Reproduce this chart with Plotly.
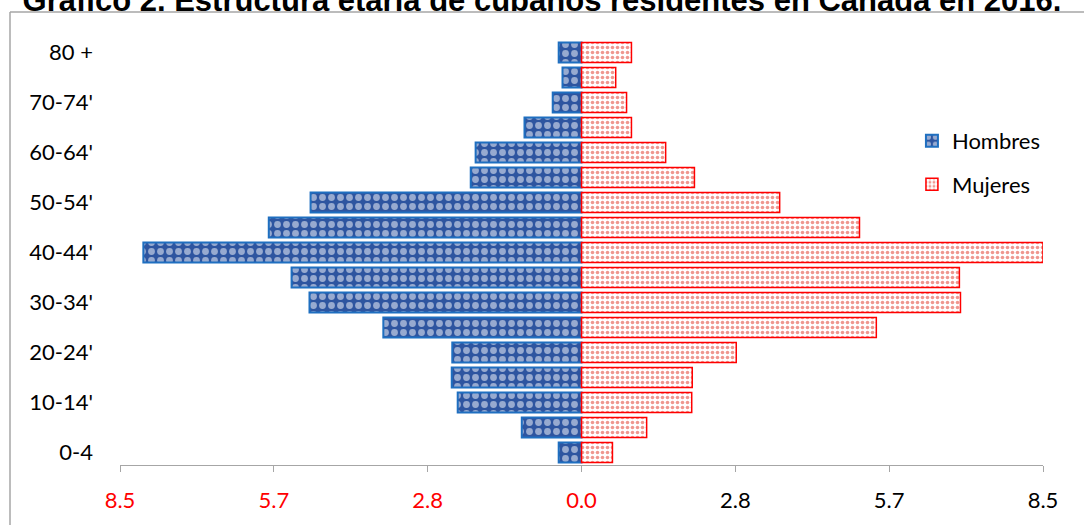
import plotly.graph_objects as go

# Age groups, youngest first
age_groups = ["0-4", "5-9'", "10-14'", "15-19'", "20-24'", "25-29'", "30-34'", "35-39'",
              "40-44'", "45-49'", "50-54'", "55-59'", "60-64'", "65-69'", "70-74'", "75-79'", "80 +"]
shown_labels = ["0-4", "10-14'", "20-24'", "30-34'", "40-44'", "50-54'", "60-64'", "70-74'", "80 +"]

# Percentage of population by sex
hombres = [0.42, 1.10, 2.28, 2.39, 2.38, 3.65, 5.01, 5.34, 8.07, 5.76, 4.99, 2.04, 1.95, 1.05, 0.53, 0.35, 0.42]
mujeres = [0.57, 1.20, 2.03, 2.04, 2.85, 5.43, 6.98, 6.96, 8.50, 5.12, 3.65, 2.08, 1.55, 0.92, 0.83, 0.63, 0.92]

# Symmetric axis ticks; the male side is shown as positive red numbers
tick_values = [-8.5, -8.5 * 2 / 3, -8.5 / 3, 0, 8.5 / 3, 8.5 * 2 / 3, 8.5]
tick_text = [f"<span style='color:#FF0000'>{abs(v):.1f}</span>" if v <= 0 else f"{v:.1f}"
             for v in tick_values]

W, H = 1084, 525
ML, MR, MT, MB = 120, 41, 40, 60

fig = go.Figure()
fig.add_trace(go.Bar(
    y=age_groups, x=[-v for v in hombres], base=0, orientation="h", name="Hombres",
    legendgroup="h",
    marker=dict(color="#2E55A0", line=dict(color="#1F6FC0", width=2),
                pattern=dict(shape=".", fgcolor="#FFFFFF", bgcolor="#2E55A0", size=9, solidity=0.45)),
))
fig.add_trace(go.Bar(
    y=age_groups, x=mujeres, base=0, orientation="h", name="Mujeres",
    legendgroup="m",
    marker=dict(color="#FFFFFF", line=dict(color="#FF0000", width=1.5),
                pattern=dict(shape=".", fgcolor="#E03020", bgcolor="#FFFFFF", size=5, solidity=0.4)),
))

# Outer chart frame
fx0 = (10 - ML) / (W - ML - MR)
fy1 = (H - MB - 12) / (H - MT - MB)
fig.add_shape(type="line", xref="paper", yref="paper", x0=fx0, x1=fx0, y0=-0.2, y1=fy1,
              line=dict(color="#A6A6A6", width=1.5))
fig.add_shape(type="line", xref="paper", yref="paper", x0=fx0, x1=1.2, y0=fy1, y1=fy1,
              line=dict(color="#A6A6A6", width=1.5))

fig.update_layout(
    width=W, height=H,
    margin=dict(l=ML, r=MR, t=MT, b=MB),
    paper_bgcolor="white", plot_bgcolor="white",
    barmode="overlay", bargap=0.2,
    title=dict(text="<b>Gráfico 2. Estructura etaria de cubanos residentes en Canadá en 2016.</b>",
               x=0.5, xanchor="center", y=1.0, yanchor="middle", yref="container",
               font=dict(family="Liberation Sans, Arial", size=31, color="black")),
    font=dict(family="Lato, Noto Sans", size=22, color="black"),
    xaxis=dict(range=[-8.5, 8.5], tickvals=tick_values, ticktext=tick_text,
               showgrid=False, zeroline=False, showline=True, linecolor="#A6A6A6", linewidth=1,
               ticks="outside", ticklen=6, tickcolor="#A6A6A6", tickfont=dict(size=22),
               ticklabelstandoff=10, fixedrange=True),
    yaxis=dict(categoryorder="array", categoryarray=age_groups, range=[-0.5, 16.5],
               tickvals=shown_labels, showgrid=False, zeroline=False, showline=False,
               ticks="", tickfont=dict(size=22), ticklabelstandoff=26, automargin=False),
    legend=dict(x=0.858, y=0.812, xanchor="left", yanchor="top", tracegroupgap=12,
                font=dict(size=22), bgcolor="rgba(0,0,0,0)"),
    showlegend=True,
)

fig.write_html("out.html")
